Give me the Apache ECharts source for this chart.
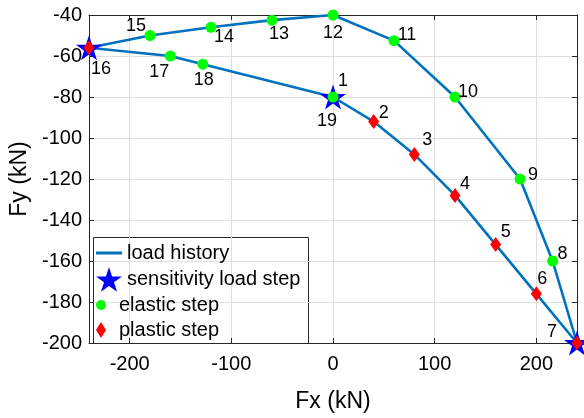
<!DOCTYPE html>
<html>
<head>
<meta charset="utf-8">
<script src="https://cdn.jsdelivr.net/npm/echarts@6/dist/echarts.min.js"></script>
<style>html,body{margin:0;padding:0;background:#fff}#c{width:584px;height:418px}</style>
</head>
<body>
<div id="c"></div>
<script>
// ---- data ----
const steps = [1,2,3,4,5,6,7,8,9,10,11,12,13,14,15,16,17,18,19];
const fx = [0,40,80,120,160,200,240,216,184,120,60,0,-60,-120,-180,-240,-160,-128,0];
const fy = [-80,-92,-108,-128,-152,-176,-200,-160,-120,-80,-52.5,-40,-42.5,-46,-50,-56,-60,-64,-80];
const sensitivitySteps = [1,7,16];
const elasticSteps = [8,9,10,11,12,13,14,15,17,18,19];
const plasticSteps = [2,3,4,5,6,7,16];
const xTicks = [-200,-100,0,100,200];
const yTicks = [-200,-180,-160,-140,-120,-100,-80,-60,-40];

// ---- label placement (style) ----
const labelOffsets = {
  1:[10,-16],2:[10,-9],3:[13,-14],4:[10,-11],5:[10,-13],6:[6,-15],7:[-25,-11],
  8:[10,-7],9:[13,-4],10:[13,-5],11:[13,-6],12:[0,18],13:[7,14],14:[13,10],
  15:[-14,-9],16:[12,21],17:[-11,16],18:[1,16],19:[-6,24]
};

const FONT = 'Liberation Sans, Arial, Helvetica, sans-serif';
const TXT = '#262626';
const BLUE = '#0072BD';
const STAR = 'path://M50,0 L61.23,34.55 L97.55,34.55 L68.17,55.9 L79.39,90.45 L50,69.1 L20.61,90.45 L31.83,55.9 L2.45,34.55 L38.77,34.55 Z';
const DIAMOND = 'path://M5,0 L10,8 L5,16 L0,8 Z';

function pt(s){ const i = steps.indexOf(s); return [fx[i], fy[i]]; }

const chart = echarts.init(document.getElementById('c'), null, {renderer:'canvas'});

const axisCommon = {
  axisLine:{show:true, onZero:false, lineStyle:{color:TXT, width:1}},
  axisTick:{show:true, inside:true, length:5, lineStyle:{color:TXT}},
};

function legend(name, icon, w, h, top){
  return {
    data:[{name:name, icon:icon}], left:96, top:top, padding:0,
    itemWidth:w, itemHeight:h, selectedMode:false,
    textStyle:{fontFamily:FONT, fontSize:20, color:'#000'}
  };
}

const option = {
  backgroundColor:'#fff',
  animation:false,
  grid:{left:89, right:7, top:15, bottom:70, containLabel:false},
  xAxis:[{
    type:'value', min:-240, max:240, position:'bottom',
    name:'Fx (kN)', nameLocation:'middle', nameGap:47,
    nameTextStyle:{fontFamily:FONT, fontSize:23, color:'#000'},
    ...axisCommon,
    axisTick:{show:true, inside:true, length:5, lineStyle:{color:TXT}, customValues:xTicks},
    axisLabel:{customValues:xTicks, fontFamily:FONT, fontSize:20, color:'#000', margin:11},
    splitLine:{show:true, lineStyle:{color:'#dfdfdf', width:1}}
  },{
    type:'value', min:-240, max:240, position:'top',
    ...axisCommon,
    axisTick:{show:true, inside:true, length:5, lineStyle:{color:TXT}, customValues:xTicks},
    axisLabel:{show:false, customValues:xTicks},
    splitLine:{show:false}
  }],
  yAxis:[{
    type:'value', min:-200, max:-40, interval:20, position:'left',
    name:'Fy (kN)', nameLocation:'middle', nameGap:57, nameRotate:90,
    nameTextStyle:{fontFamily:FONT, fontSize:23, color:'#000'},
    ...axisCommon,
    axisLabel:{fontFamily:FONT, fontSize:20, color:'#000', margin:7},
    splitLine:{show:true, lineStyle:{color:'#dfdfdf', width:1}}
  },{
    type:'value', min:-200, max:-40, interval:20, position:'right',
    ...axisCommon,
    axisLabel:{show:false},
    splitLine:{show:false}
  }],
  legend:[
    legend('load history','rect',26,3,243),
    legend('sensitivity load step',STAR,26,25,267),
    legend('elastic step','circle',26,10,295),
    legend('plastic step',DIAMOND,26,16,320)
  ],
  graphic:[{
    type:'rect', left:93, top:237, z:-1,
    shape:{width:215, height:106},
    style:{fill:'#fff', stroke:TXT, lineWidth:1}
  }],
  series:[
    {
      name:'load history', type:'line', z:2,
      data: steps.map(pt), showSymbol:false, symbol:'none', clip:false,
      lineStyle:{color:BLUE, width:2.6}, itemStyle:{color:BLUE}
    },
    {
      name:'sensitivity load step', type:'scatter', z:3, clip:false,
      data: sensitivitySteps.map(pt), symbol:STAR, symbolSize:[26,25],
      itemStyle:{color:'#0000FF', opacity:1}
    },
    {
      name:'elastic step', type:'scatter', z:4, clip:false,
      data: elasticSteps.map(pt), symbol:'circle', symbolSize:11,
      itemStyle:{color:'#00FF00', opacity:1}
    },
    {
      name:'plastic step', type:'scatter', z:4, clip:false,
      data: plasticSteps.map(pt), symbol:'diamond', symbolSize:[11,15],
      itemStyle:{color:'#FF0000', opacity:1}
    },
    {
      name:'step labels', type:'scatter', z:5, clip:false, silent:true,
      symbolSize:1, itemStyle:{color:'rgba(0,0,0,0)', opacity:1},
      data: steps.map(function(s){
        const p = pt(s);
        return {value:p, label:{show:true, formatter:String(s), position:'inside', offset:labelOffsets[s],
          fontFamily:FONT, fontSize:18, color:'#000', opacity:1}};
      })
    }
  ]
};
chart.setOption(option);
</script>
</body>
</html>
